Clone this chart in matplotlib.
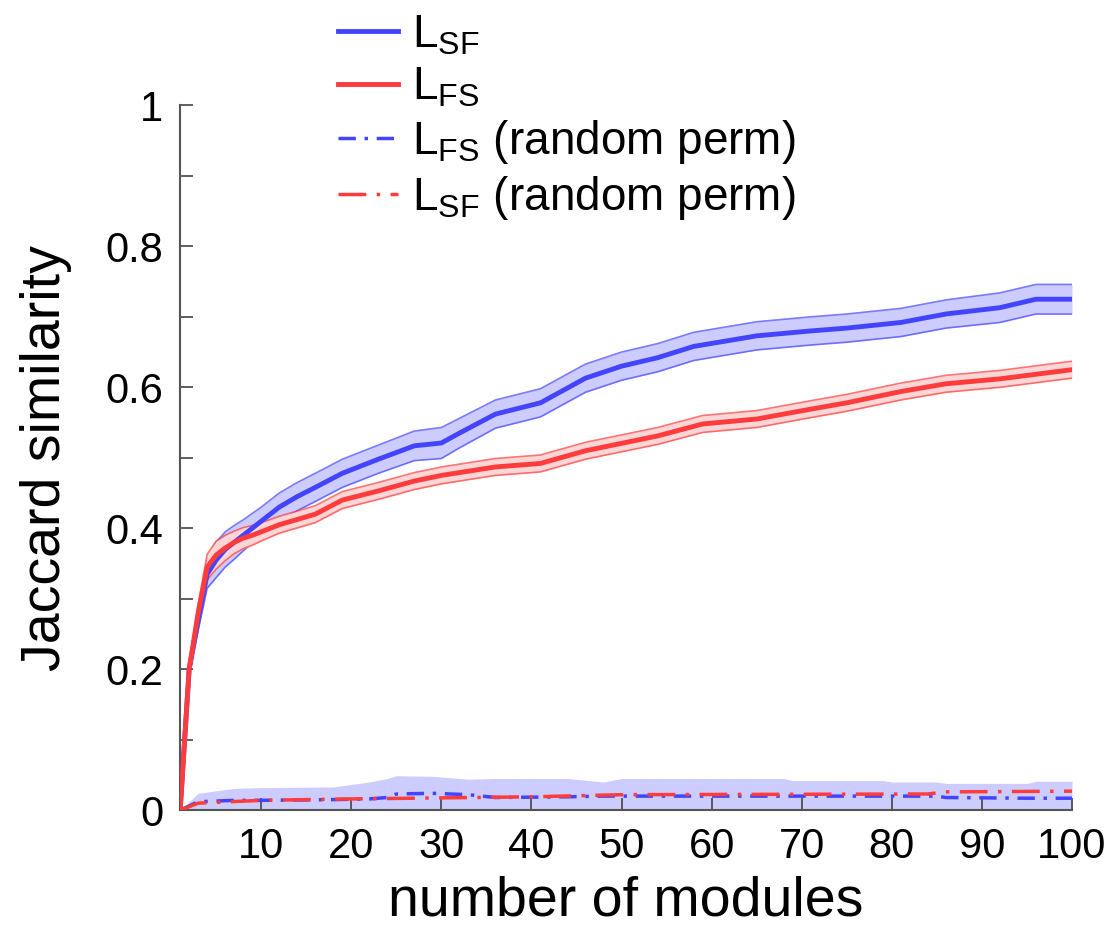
import numpy as np
import matplotlib.pyplot as plt

plt.rcParams['font.family'] = ['Liberation Sans', 'DejaVu Sans']

# L_SF (blue) mean and half-width of band
x_sf = [1, 2, 3, 4, 5, 6, 7, 8, 9, 10, 12, 14, 16, 19, 23, 27, 30, 32, 36, 41, 46, 50, 54, 58, 65, 71, 75, 81, 86, 92, 96, 100]
y_sf = [0.0, 0.20, 0.27, 0.335, 0.355, 0.37, 0.38, 0.39, 0.40, 0.41, 0.43, 0.445, 0.458, 0.478, 0.498, 0.517, 0.521, 0.535, 0.562, 0.578, 0.613, 0.63, 0.642, 0.658, 0.673, 0.68, 0.684, 0.692, 0.704, 0.713, 0.725, 0.725]
w_sf = [0.0, 0.01, 0.015, 0.02, 0.025, 0.025, 0.024, 0.022, 0.021, 0.02, 0.02, 0.02, 0.02, 0.02, 0.02, 0.021, 0.022, 0.021, 0.02, 0.02, 0.02, 0.02, 0.02, 0.02, 0.02, 0.02, 0.02, 0.02, 0.02, 0.021, 0.021, 0.021]

# L_FS (red)
x_fs = [1, 2, 3, 4, 5, 6, 7, 8, 9, 10, 12, 16, 19, 23, 27, 30, 36, 41, 46, 54, 59, 65, 71, 75, 81, 86, 92, 100]
y_fs = [0.0, 0.20, 0.28, 0.345, 0.362, 0.372, 0.38, 0.386, 0.39, 0.395, 0.405, 0.42, 0.44, 0.453, 0.467, 0.475, 0.487, 0.492, 0.51, 0.531, 0.548, 0.555, 0.569, 0.578, 0.594, 0.605, 0.612, 0.625]
w_fs = [0.0, 0.008, 0.012, 0.018, 0.02, 0.018, 0.016, 0.015, 0.014, 0.013, 0.012, 0.012, 0.012, 0.012, 0.012, 0.012, 0.012, 0.012, 0.012, 0.012, 0.012, 0.012, 0.012, 0.012, 0.012, 0.012, 0.012, 0.012]

# random permutation controls
x_rnd_b = [1, 3, 7, 10, 18, 22, 24, 25, 29, 33, 36, 44, 48, 50, 60, 68, 69, 79, 80, 85, 86, 95, 96, 100]
y_rnd_b = [0.0, 0.012, 0.014, 0.014, 0.015, 0.016, 0.018, 0.023, 0.024, 0.022, 0.018, 0.019, 0.02, 0.02, 0.02, 0.02, 0.02, 0.02, 0.02, 0.02, 0.018, 0.017, 0.017, 0.017]
up_rnd_b = [0.0, 0.024, 0.031, 0.032, 0.033, 0.04, 0.045, 0.049, 0.048, 0.044, 0.045, 0.045, 0.04, 0.045, 0.045, 0.045, 0.042, 0.042, 0.04, 0.04, 0.038, 0.038, 0.041, 0.041]

x_rnd_r = [1, 3, 10, 20, 40, 50, 84, 86, 100]
y_rnd_r = [0.0, 0.01, 0.014, 0.016, 0.019, 0.022, 0.023, 0.026, 0.027]

x_ticks = [10, 20, 30, 40, 50, 60, 70, 80, 90, 100]
y_ticks = [0, 0.2, 0.4, 0.6, 0.8, 1]
y_tick_labels = ['0', '0.2', '0.4', '0.6', '0.8', '1']

blue = '#4444ff'
red = '#ff3b3b'

fig = plt.figure(figsize=(11.12, 9.41), dpi=100)
ax = fig.add_axes([0.162, 0.139, 0.802, 0.749])

# bands
xs, ys, ws = np.array(x_sf), np.array(y_sf), np.array(w_sf)
ax.fill_between(xs, ys - ws, ys + ws, color='#ccccff', lw=0, zorder=1)
ax.plot(xs, ys - ws, color=blue, lw=1.2, alpha=0.7, zorder=2)
ax.plot(xs, ys + ws, color=blue, lw=1.2, alpha=0.7, zorder=2)

xf, yf, wf = np.array(x_fs), np.array(y_fs), np.array(w_fs)
ax.fill_between(xf, yf - wf, yf + wf, color='#ffd6d6', lw=0, zorder=3)
ax.plot(xf, yf - wf, color=red, lw=1.2, alpha=0.7, zorder=3)
ax.plot(xf, yf + wf, color=red, lw=1.2, alpha=0.7, zorder=3)

ax.fill_between(x_rnd_b, 0, up_rnd_b, color='#ccccff', lw=0, zorder=1)

# mean curves
l1, = ax.plot(x_sf, y_sf, color=blue, lw=3.5, zorder=4, label=r'L$_{\mathregular{SF}}$')
l2, = ax.plot(x_fs, y_fs, color=red, lw=3.5, zorder=5, label=r'L$_{\mathregular{FS}}$')
l3, = ax.plot(x_rnd_b, y_rnd_b, color=blue, lw=2.5, ls=(0, (5, 2.5, 1, 2.5)), zorder=4,
              label=r'L$_{\mathregular{FS}}$ (random perm)')
l4, = ax.plot(x_rnd_r, y_rnd_r, color=red, lw=2.5, ls=(0, (8, 3, 1, 3)), zorder=5,
              label=r'L$_{\mathregular{SF}}$ (random perm)')

ax.set_xlim(1, 100)
ax.set_ylim(0, 1)
ax.set_xticks(x_ticks)
ax.set_xticklabels([str(t) for t in x_ticks])
ax.set_yticks(y_ticks)
ax.set_yticklabels(y_tick_labels)
ax.set_yticks(np.arange(0.1, 1.0, 0.2), minor=True)
ax.tick_params(axis='both', which='both', direction='in', length=9, width=1.2,
               color='#444444', labelsize=30, pad=12)
for s in ['top', 'right']:
    ax.spines[s].set_visible(False)
for s in ['left', 'bottom']:
    ax.spines[s].set_color('#555555')
    ax.spines[s].set_linewidth(1.5)

ax.set_xlabel('number of modules', fontsize=40, labelpad=6)
ax.set_ylabel('Jaccard similarity', fontsize=40, labelpad=24)

leg = fig.legend(handles=[l1, l2, l3, l4], loc='upper left', bbox_to_anchor=(0.298, 0.993),
                 frameon=False, fontsize=33, handlelength=1.3, handletextpad=0.3,
                 labelspacing=0.18, borderaxespad=0.0, borderpad=0.15)

fig.savefig('out.png', dpi=100)
